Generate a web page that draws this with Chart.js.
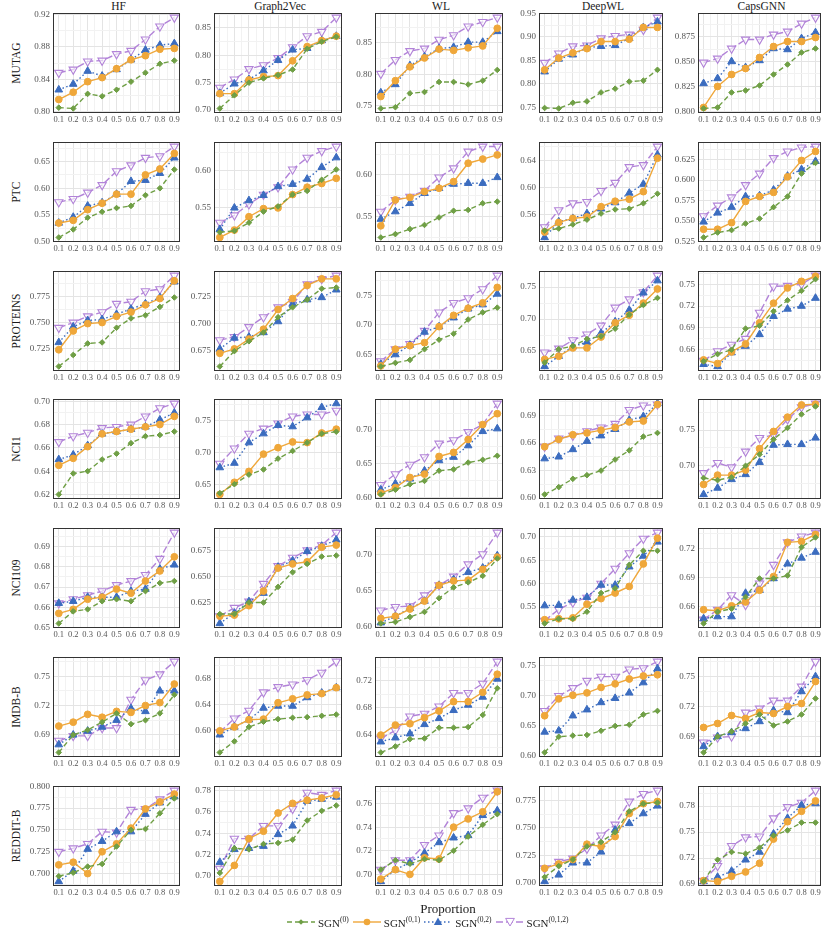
<!DOCTYPE html>
<html>
<head>
<meta charset="utf-8">
<script src="https://cdn.jsdelivr.net/npm/chart.js@4.4.1/dist/chart.umd.min.js"></script>
<style>
  body { margin: 0; background: #fff; font-family: "Liberation Serif", "Times New Roman", serif; }
  #page { position: relative; width: 830px; height: 931px; overflow: hidden; }
  .cell { position: absolute; }
  .colTitle { position: absolute; top: 0px; font-size: 11.5px; color: #1a1a1a; transform: translateX(-50%); white-space: nowrap; }
  .rowTitle { position: absolute; font-size: 11.5px; color: #1a1a1a; transform: translate(-50%, -50%) rotate(-90deg); white-space: nowrap; }
  #xTitle { position: absolute; left: 448px; top: 901px; font-size: 13px; color: #1a1a1a; transform: translateX(-50%); }
  #legend { position: absolute; left: 287px; top: 915px; display: flex; align-items: center; font-size: 11px; color: #1a1a1a; white-space: nowrap; }
  #legend .item { display: flex; align-items: center; margin-right: 4px; }
  #legend svg { margin-right: 3px; }
  #legend sup { font-size: 7.5px; vertical-align: 5px; }
</style>
</head>
<body>
<div id="page"></div>
<script>
// x values and names
const PROPORTIONS = [0.1, 0.2, 0.3, 0.4, 0.5, 0.6, 0.7, 0.8, 0.9];
const METHODS = ["HF", "Graph2Vec", "WL", "DeepWL", "CapsGNN"];
const DATASETS = ["MUTAG", "PTC", "PROTEINS", "NCI1", "NCI109", "IMDB-B", "REDDIT-B"];
const SERIES = ["SGN(0)", "SGN(0,1)", "SGN(0,2)", "SGN(0,1,2)"];

// each panel: [SGN(0), SGN(0,1), SGN(0,2), SGN(0,1,2)]
const MUTAG_HF = [
  [0.805, 0.804, 0.822, 0.819, 0.827, 0.837, 0.848, 0.859, 0.863],
  [0.815, 0.824, 0.837, 0.842, 0.853, 0.864, 0.869, 0.877, 0.878],
  [0.827, 0.834, 0.850, 0.844, 0.852, 0.864, 0.876, 0.882, 0.884],
  [0.848, 0.852, 0.862, 0.863, 0.871, 0.875, 0.889, 0.905, 0.916]];
const MUTAG_GRAPH2VEC = [
  [0.703, 0.727, 0.750, 0.758, 0.764, 0.774, 0.812, 0.825, 0.834],
  [0.730, 0.730, 0.755, 0.761, 0.763, 0.790, 0.816, 0.827, 0.835],
  [0.731, 0.748, 0.756, 0.772, 0.791, 0.810, 0.813, 0.827, 0.835],
  [0.741, 0.756, 0.775, 0.782, 0.795, 0.815, 0.835, 0.843, 0.869]];
const MUTAG_WL = [
  [0.746, 0.748, 0.770, 0.772, 0.788, 0.788, 0.784, 0.790, 0.807],
  [0.765, 0.790, 0.812, 0.826, 0.840, 0.838, 0.842, 0.845, 0.873],
  [0.771, 0.784, 0.814, 0.828, 0.841, 0.843, 0.851, 0.851, 0.868],
  [0.801, 0.823, 0.837, 0.841, 0.855, 0.862, 0.876, 0.883, 0.890]];
const MUTAG_DEEPWL = [
  [0.749, 0.748, 0.760, 0.763, 0.782, 0.790, 0.805, 0.807, 0.830],
  [0.830, 0.855, 0.866, 0.875, 0.890, 0.890, 0.895, 0.920, 0.920],
  [0.826, 0.853, 0.862, 0.877, 0.880, 0.882, 0.897, 0.920, 0.932],
  [0.845, 0.865, 0.880, 0.882, 0.897, 0.902, 0.905, 0.915, 0.941]];
const MUTAG_CAPSGNN = [
  [0.803, 0.804, 0.819, 0.821, 0.826, 0.837, 0.847, 0.859, 0.863],
  [0.804, 0.825, 0.837, 0.843, 0.854, 0.865, 0.870, 0.870, 0.874],
  [0.828, 0.833, 0.850, 0.844, 0.851, 0.863, 0.862, 0.873, 0.879],
  [0.849, 0.853, 0.863, 0.872, 0.872, 0.877, 0.880, 0.888, 0.894]];

const PTC_HF = [
  [0.508, 0.523, 0.545, 0.556, 0.563, 0.567, 0.587, 0.600, 0.635],
  [0.535, 0.540, 0.560, 0.572, 0.589, 0.589, 0.625, 0.636, 0.665],
  [0.535, 0.546, 0.567, 0.573, 0.589, 0.613, 0.615, 0.628, 0.657],
  [0.574, 0.580, 0.592, 0.606, 0.632, 0.643, 0.657, 0.660, 0.678]];
const PTC_GRAPH2VEC = [
  [0.517, 0.519, 0.530, 0.545, 0.552, 0.568, 0.573, 0.588, 0.602],
  [0.510, 0.520, 0.538, 0.549, 0.550, 0.568, 0.578, 0.583, 0.590],
  [0.521, 0.550, 0.560, 0.567, 0.579, 0.582, 0.589, 0.605, 0.618],
  [0.530, 0.540, 0.555, 0.568, 0.578, 0.602, 0.618, 0.627, 0.633]];
const PTC_WL = [
  [0.525, 0.529, 0.535, 0.540, 0.549, 0.557, 0.558, 0.566, 0.568],
  [0.539, 0.570, 0.573, 0.580, 0.584, 0.592, 0.614, 0.619, 0.624],
  [0.547, 0.556, 0.566, 0.578, 0.584, 0.589, 0.590, 0.590, 0.597],
  [0.556, 0.570, 0.574, 0.581, 0.597, 0.608, 0.628, 0.634, 0.634]];
const PTC_DEEPWL = [
  [0.537, 0.540, 0.546, 0.553, 0.562, 0.568, 0.569, 0.577, 0.591],
  [0.535, 0.549, 0.555, 0.557, 0.572, 0.580, 0.583, 0.594, 0.643],
  [0.527, 0.550, 0.555, 0.562, 0.569, 0.578, 0.592, 0.605, 0.648],
  [0.542, 0.567, 0.577, 0.579, 0.595, 0.607, 0.630, 0.633, 0.660]];
const PTC_CAPSGNN = [
  [0.530, 0.536, 0.539, 0.547, 0.553, 0.567, 0.580, 0.608, 0.621],
  [0.540, 0.540, 0.548, 0.574, 0.580, 0.585, 0.604, 0.624, 0.635],
  [0.549, 0.560, 0.567, 0.580, 0.581, 0.588, 0.605, 0.613, 0.623],
  [0.556, 0.569, 0.579, 0.594, 0.608, 0.627, 0.635, 0.640, 0.641]];

const PROTEINS_HF = [
  [0.708, 0.719, 0.730, 0.731, 0.745, 0.754, 0.757, 0.765, 0.774],
  [0.724, 0.742, 0.749, 0.750, 0.756, 0.760, 0.767, 0.773, 0.790],
  [0.731, 0.746, 0.752, 0.753, 0.758, 0.763, 0.768, 0.774, 0.789],
  [0.745, 0.750, 0.756, 0.760, 0.768, 0.770, 0.780, 0.782, 0.795]];
const PROTEINS_GRAPH2VEC = [
  [0.661, 0.675, 0.684, 0.692, 0.706, 0.715, 0.722, 0.732, 0.733],
  [0.673, 0.677, 0.686, 0.695, 0.713, 0.723, 0.735, 0.741, 0.741],
  [0.677, 0.687, 0.688, 0.692, 0.702, 0.718, 0.722, 0.724, 0.731],
  [0.685, 0.688, 0.697, 0.706, 0.715, 0.720, 0.736, 0.741, 0.744]];
const PROTEINS_WL = [
  [0.630, 0.636, 0.641, 0.659, 0.675, 0.685, 0.709, 0.721, 0.729],
  [0.631, 0.659, 0.665, 0.670, 0.697, 0.716, 0.728, 0.737, 0.763],
  [0.634, 0.650, 0.666, 0.688, 0.697, 0.712, 0.727, 0.734, 0.752],
  [0.639, 0.659, 0.668, 0.690, 0.721, 0.737, 0.745, 0.760, 0.783]];
const PROTEINS_DEEPWL = [
  [0.632, 0.653, 0.658, 0.669, 0.673, 0.685, 0.707, 0.722, 0.733],
  [0.637, 0.642, 0.655, 0.655, 0.672, 0.694, 0.706, 0.725, 0.747],
  [0.626, 0.642, 0.657, 0.664, 0.678, 0.696, 0.714, 0.741, 0.760],
  [0.648, 0.654, 0.667, 0.676, 0.690, 0.718, 0.731, 0.742, 0.768]];
const PROTEINS_CAPSGNN = [
  [0.644, 0.654, 0.660, 0.689, 0.693, 0.713, 0.728, 0.741, 0.757],
  [0.646, 0.641, 0.657, 0.668, 0.697, 0.724, 0.745, 0.754, 0.761],
  [0.640, 0.637, 0.656, 0.665, 0.681, 0.706, 0.716, 0.720, 0.731],
  [0.645, 0.658, 0.667, 0.675, 0.711, 0.747, 0.748, 0.750, 0.762]];

const NCI1_HF = [
  [0.620, 0.638, 0.640, 0.650, 0.655, 0.664, 0.670, 0.671, 0.674],
  [0.645, 0.651, 0.661, 0.672, 0.674, 0.676, 0.678, 0.680, 0.687],
  [0.650, 0.654, 0.662, 0.672, 0.674, 0.676, 0.678, 0.684, 0.690],
  [0.665, 0.670, 0.673, 0.677, 0.678, 0.680, 0.687, 0.694, 0.698]];
const NCI1_GRAPH2VEC = [
  [0.636, 0.650, 0.665, 0.673, 0.690, 0.702, 0.715, 0.729, 0.732],
  [0.634, 0.653, 0.670, 0.697, 0.707, 0.716, 0.715, 0.730, 0.736],
  [0.676, 0.683, 0.715, 0.729, 0.742, 0.740, 0.754, 0.770, 0.776],
  [0.682, 0.706, 0.729, 0.737, 0.745, 0.756, 0.759, 0.759, 0.765]];
const NCI1_WL = [
  [0.605, 0.612, 0.620, 0.625, 0.640, 0.642, 0.652, 0.656, 0.662],
  [0.607, 0.615, 0.630, 0.635, 0.661, 0.667, 0.686, 0.708, 0.724],
  [0.612, 0.621, 0.628, 0.640, 0.655, 0.660, 0.677, 0.698, 0.702],
  [0.619, 0.635, 0.649, 0.660, 0.680, 0.685, 0.697, 0.708, 0.739]];
const NCI1_DEEPWL = [
  [0.604, 0.612, 0.621, 0.625, 0.630, 0.642, 0.652, 0.667, 0.671],
  [0.656, 0.664, 0.669, 0.671, 0.674, 0.677, 0.683, 0.684, 0.702],
  [0.643, 0.645, 0.653, 0.662, 0.668, 0.675, 0.685, 0.689, 0.703],
  [0.656, 0.665, 0.668, 0.673, 0.677, 0.681, 0.696, 0.701, 0.702]];
const NCI1_CAPSGNN = [
  [0.683, 0.680, 0.684, 0.700, 0.716, 0.737, 0.753, 0.772, 0.783],
  [0.674, 0.687, 0.687, 0.694, 0.724, 0.748, 0.768, 0.785, 0.786],
  [0.660, 0.669, 0.681, 0.688, 0.705, 0.729, 0.730, 0.730, 0.739],
  [0.690, 0.704, 0.698, 0.720, 0.739, 0.743, 0.765, 0.782, 0.787]];

const NCI109_HF = [
  [0.652, 0.658, 0.659, 0.663, 0.664, 0.663, 0.668, 0.672, 0.673],
  [0.657, 0.659, 0.664, 0.665, 0.669, 0.667, 0.673, 0.678, 0.685],
  [0.662, 0.663, 0.665, 0.665, 0.665, 0.668, 0.669, 0.679, 0.681],
  [0.662, 0.664, 0.666, 0.668, 0.671, 0.673, 0.676, 0.684, 0.697]];
const NCI109_GRAPH2VEC = [
  [0.614, 0.614, 0.625, 0.625, 0.640, 0.654, 0.662, 0.669, 0.670],
  [0.612, 0.613, 0.622, 0.636, 0.658, 0.662, 0.664, 0.678, 0.680],
  [0.605, 0.615, 0.626, 0.634, 0.659, 0.665, 0.674, 0.679, 0.685],
  [0.612, 0.620, 0.626, 0.643, 0.660, 0.668, 0.675, 0.680, 0.692]];
const NCI109_WL = [
  [0.604, 0.606, 0.613, 0.620, 0.639, 0.654, 0.661, 0.670, 0.694],
  [0.611, 0.614, 0.624, 0.635, 0.657, 0.663, 0.664, 0.679, 0.696],
  [0.605, 0.614, 0.625, 0.635, 0.657, 0.665, 0.675, 0.681, 0.698],
  [0.622, 0.627, 0.628, 0.643, 0.657, 0.669, 0.686, 0.700, 0.730]];
const NCI109_DEEPWL = [
  [0.515, 0.525, 0.525, 0.540, 0.580, 0.590, 0.640, 0.670, 0.670],
  [0.523, 0.525, 0.527, 0.556, 0.568, 0.580, 0.594, 0.642, 0.697],
  [0.553, 0.554, 0.565, 0.571, 0.597, 0.597, 0.636, 0.659, 0.689],
  [0.521, 0.545, 0.560, 0.570, 0.600, 0.632, 0.665, 0.696, 0.709]];
const NCI109_CAPSGNN = [
  [0.643, 0.655, 0.658, 0.670, 0.689, 0.689, 0.692, 0.721, 0.731],
  [0.657, 0.656, 0.661, 0.665, 0.677, 0.691, 0.726, 0.727, 0.734],
  [0.648, 0.650, 0.650, 0.674, 0.677, 0.689, 0.704, 0.710, 0.716],
  [0.647, 0.657, 0.672, 0.662, 0.684, 0.703, 0.726, 0.732, 0.736]];

const IMDB_HF = [
  [0.672, 0.690, 0.695, 0.703, 0.712, 0.701, 0.705, 0.712, 0.731],
  [0.699, 0.703, 0.711, 0.708, 0.714, 0.713, 0.720, 0.723, 0.742],
  [0.680, 0.690, 0.694, 0.698, 0.705, 0.717, 0.714, 0.735, 0.735],
  [0.684, 0.689, 0.689, 0.697, 0.697, 0.726, 0.746, 0.752, 0.765]];
const IMDB_GRAPH2VEC = [
  [0.567, 0.584, 0.606, 0.614, 0.618, 0.620, 0.621, 0.623, 0.625],
  [0.600, 0.606, 0.617, 0.618, 0.643, 0.649, 0.655, 0.657, 0.666],
  [0.594, 0.606, 0.617, 0.635, 0.638, 0.638, 0.651, 0.658, 0.666],
  [0.598, 0.619, 0.631, 0.659, 0.667, 0.671, 0.678, 0.689, 0.706]];
const IMDB_WL = [
  [0.613, 0.622, 0.633, 0.634, 0.650, 0.650, 0.651, 0.669, 0.709],
  [0.639, 0.654, 0.656, 0.665, 0.675, 0.689, 0.689, 0.703, 0.730],
  [0.629, 0.635, 0.641, 0.655, 0.664, 0.676, 0.684, 0.696, 0.723],
  [0.634, 0.646, 0.667, 0.671, 0.682, 0.702, 0.702, 0.716, 0.749]];
const IMDB_DEEPWL = [
  [0.606, 0.632, 0.634, 0.635, 0.642, 0.650, 0.652, 0.669, 0.675],
  [0.667, 0.695, 0.701, 0.705, 0.714, 0.720, 0.728, 0.733, 0.735],
  [0.640, 0.642, 0.667, 0.677, 0.689, 0.696, 0.705, 0.722, 0.745],
  [0.675, 0.700, 0.713, 0.725, 0.732, 0.732, 0.744, 0.746, 0.757]];
const IMDB_CAPSGNN = [
  [0.674, 0.690, 0.695, 0.703, 0.712, 0.701, 0.705, 0.712, 0.728],
  [0.699, 0.703, 0.711, 0.708, 0.714, 0.713, 0.720, 0.723, 0.745],
  [0.680, 0.690, 0.694, 0.698, 0.705, 0.716, 0.714, 0.735, 0.750],
  [0.684, 0.689, 0.690, 0.714, 0.718, 0.726, 0.726, 0.740, 0.765]];

const REDDIT_HF = [
  [0.697, 0.701, 0.708, 0.711, 0.731, 0.750, 0.751, 0.769, 0.786],
  [0.710, 0.713, 0.700, 0.725, 0.734, 0.752, 0.774, 0.782, 0.791],
  [0.691, 0.703, 0.728, 0.737, 0.748, 0.748, 0.768, 0.781, 0.788],
  [0.725, 0.729, 0.734, 0.748, 0.747, 0.773, 0.774, 0.785, 0.795]];
const REDDIT_GRAPH2VEC = [
  [0.703, 0.726, 0.725, 0.730, 0.731, 0.734, 0.752, 0.761, 0.766],
  [0.695, 0.710, 0.735, 0.742, 0.759, 0.768, 0.771, 0.773, 0.776],
  [0.713, 0.725, 0.726, 0.728, 0.739, 0.747, 0.770, 0.772, 0.774],
  [0.707, 0.735, 0.735, 0.747, 0.747, 0.763, 0.778, 0.776, 0.780]];
const REDDIT_WL = [
  [0.704, 0.712, 0.709, 0.713, 0.712, 0.720, 0.732, 0.742, 0.751],
  [0.696, 0.704, 0.700, 0.714, 0.713, 0.740, 0.747, 0.753, 0.770],
  [0.694, 0.704, 0.710, 0.718, 0.727, 0.731, 0.733, 0.750, 0.754],
  [0.704, 0.712, 0.712, 0.725, 0.733, 0.752, 0.756, 0.765, 0.771]];
const REDDIT_DEEPWL = [
  [0.705, 0.715, 0.721, 0.733, 0.737, 0.746, 0.765, 0.772, 0.773],
  [0.713, 0.717, 0.721, 0.735, 0.733, 0.742, 0.763, 0.772, 0.774],
  [0.701, 0.707, 0.718, 0.718, 0.728, 0.748, 0.754, 0.763, 0.770],
  [0.713, 0.719, 0.722, 0.731, 0.743, 0.753, 0.774, 0.781, 0.784]];
const REDDIT_CAPSGNN = [
  [0.693, 0.718, 0.727, 0.725, 0.732, 0.746, 0.752, 0.761, 0.761],
  [0.694, 0.693, 0.699, 0.704, 0.714, 0.742, 0.762, 0.774, 0.786],
  [0.693, 0.698, 0.705, 0.718, 0.727, 0.748, 0.766, 0.781, 0.783],
  [0.694, 0.711, 0.734, 0.744, 0.745, 0.766, 0.779, 0.784, 0.798]];

// labelled y tick step for every panel (rows = datasets, cols = methods)
const Y_STEPS = [
  [0.04, 0.05, 0.05, 0.05, 0.025],
  [0.05, 0.05, 0.05, 0.04, 0.025],
  [0.025, 0.025, 0.05, 0.05, 0.03],
  [0.02, 0.05, 0.05, 0.03, 0.05],
  [0.01, 0.025, 0.05, 0.05, 0.03],
  [0.03, 0.04, 0.04, 0.05, 0.03],
  [0.025, 0.02, 0.02, 0.025, 0.03]];

const PANELS = [
  [MUTAG_HF, MUTAG_GRAPH2VEC, MUTAG_WL, MUTAG_DEEPWL, MUTAG_CAPSGNN],
  [PTC_HF, PTC_GRAPH2VEC, PTC_WL, PTC_DEEPWL, PTC_CAPSGNN],
  [PROTEINS_HF, PROTEINS_GRAPH2VEC, PROTEINS_WL, PROTEINS_DEEPWL, PROTEINS_CAPSGNN],
  [NCI1_HF, NCI1_GRAPH2VEC, NCI1_WL, NCI1_DEEPWL, NCI1_CAPSGNN],
  [NCI109_HF, NCI109_GRAPH2VEC, NCI109_WL, NCI109_DEEPWL, NCI109_CAPSGNN],
  [IMDB_HF, IMDB_GRAPH2VEC, IMDB_WL, IMDB_DEEPWL, IMDB_CAPSGNN],
  [REDDIT_HF, REDDIT_GRAPH2VEC, REDDIT_WL, REDDIT_DEEPWL, REDDIT_CAPSGNN]];

// styling
const COLORS = ["#6f9f45", "#efa73a", "#3b6cbf", "#b283d8"];
const DASHES = [[5, 3], [], [1.5, 2.5], [7, 3]];
const POINT_STYLES = ["rectRot", "circle", "triangle", "triangle"];
const POINT_RADII = [2.8, 3.4, 4.4, 4.8];
const FONT = "'Liberation Serif', 'Times New Roman', serif";

// plot box positions (page pixels)
const BOX_LEFT = [53, 214, 375, 539, 698];
const BOX_RIGHT = [184, 346, 507, 667, 825];
const ROW_TOP0 = 13, ROW_GAP = 128.8, BOX_H = 100;
const Y_AXIS_W = 30, X_AXIS_H = 13;

const page = document.getElementById("page");

// dark frame round each panel, like theme_bw
const panelBorder = {
  id: "panelBorder",
  afterDraw(chart) {
    const a = chart.chartArea;
    const ctx = chart.ctx;
    ctx.save();
    ctx.strokeStyle = "#333333";
    ctx.lineWidth = 1;
    ctx.strokeRect(Math.round(a.left) + 0.5, Math.round(a.top) + 0.5,
      Math.round(a.right - a.left) - 1, Math.round(a.bottom - a.top) - 1);
    ctx.restore();
  },
};

function isMultiple(v, step) {
  const q = v / step;
  return Math.abs(q - Math.round(q)) < 1e-6;
}

function tickList(min, max, step) {
  const out = [];
  for (let k = Math.ceil(min / step - 1e-9); k * step <= max + 1e-9; k++) {
    out.push({ value: Math.round(k * step * 1e6) / 1e6 });
  }
  return out;
}

function drawPanel(r, c) {
  const series = PANELS[r][c];
  const step = Y_STEPS[r][c];
  const decimals = isMultiple(step, 0.01) ? 2 : 3;

  // ggplot style 5% expansion of the data range
  const all = series.flat();
  const lo = Math.min(...all), hi = Math.max(...all);
  const pad = (hi - lo) * 0.05;
  const yMin = lo - pad, yMax = hi + pad;

  const boxTop = Math.round(ROW_TOP0 + r * ROW_GAP);
  const left = BOX_LEFT[c] - Y_AXIS_W;
  const width = BOX_RIGHT[c] + 2 - left;
  const height = 13 + BOX_H + X_AXIS_H;

  const cell = document.createElement("div");
  cell.className = "cell";
  cell.style.left = left + "px";
  cell.style.top = (boxTop - 13) + "px";
  cell.style.width = width + "px";
  cell.style.height = height + "px";
  const canvas = document.createElement("canvas");
  canvas.width = width;
  canvas.height = height;
  cell.appendChild(canvas);
  page.appendChild(cell);
  // plain software canvas, so every label is kept in the photo
  canvas.getContext("2d", { willReadFrequently: true });

  const datasets = series.map((vals, k) => ({
    label: SERIES[k],
    data: vals.map((v, i) => ({ x: PROPORTIONS[i], y: v })),
    borderColor: COLORS[k],
    backgroundColor: COLORS[k],
    borderWidth: 1.4,
    borderDash: DASHES[k],
    pointStyle: POINT_STYLES[k],
    pointRadius: POINT_RADII[k],
    pointRotation: k === 3 ? 180 : 0,
    pointBorderColor: COLORS[k],
    pointBackgroundColor: k === 3 ? "rgba(255,255,255,0.6)" : COLORS[k],
    pointBorderWidth: k === 3 ? 1.1 : 1,
    tension: 0,
  }));

  new Chart(canvas, {
    type: "line",
    data: { datasets: datasets },
    options: {
      responsive: false,
      animation: false,
      devicePixelRatio: 1,
      layout: { padding: { top: 13, right: 2, left: 0, bottom: 0 } },
      plugins: { legend: { display: false }, tooltip: { enabled: false } },
      scales: {
        x: {
          type: "linear",
          min: 0.06,
          max: 0.94,
          afterBuildTicks: (axis) => { axis.ticks = tickList(0.06, 0.94, 0.05); },
          afterFit: (axis) => { axis.height = X_AXIS_H; },
          ticks: {
            autoSkip: false,
            maxRotation: 0,
            padding: 2,
            color: "#555555",
            font: { family: FONT, size: 8.5 },
            callback: (v) => (isMultiple(v, 0.1) ? v.toFixed(1) : ""),
          },
          grid: {
            drawTicks: false,
            color: (ctx) => (ctx.tick && isMultiple(ctx.tick.value, 0.1) ? "#e4e4e4" : "#f2f2f2"),
          },
          border: { display: false },
        },
        y: {
          min: yMin,
          max: yMax,
          afterBuildTicks: (axis) => { axis.ticks = tickList(yMin, yMax, step / 2); },
          afterFit: (axis) => { axis.width = Y_AXIS_W; },
          ticks: {
            autoSkip: false,
            padding: 3,
            color: "#555555",
            font: { family: FONT, size: 9 },
            callback: (v) => (isMultiple(v, step) ? v.toFixed(decimals) : ""),
          },
          grid: {
            drawTicks: false,
            color: (ctx) => (ctx.tick && isMultiple(ctx.tick.value, step) ? "#e4e4e4" : "#f2f2f2"),
          },
          border: { display: false },
        },
      },
    },
    plugins: [panelBorder],
  });
}

// column titles
METHODS.forEach((m, c) => {
  const d = document.createElement("div");
  d.className = "colTitle";
  d.textContent = m;
  d.style.left = ((BOX_LEFT[c] + BOX_RIGHT[c]) / 2) + "px";
  page.appendChild(d);
});

// row titles
DATASETS.forEach((name, r) => {
  const d = document.createElement("div");
  d.className = "rowTitle";
  d.textContent = name;
  d.style.left = "16px";
  d.style.top = Math.round(ROW_TOP0 + r * ROW_GAP + BOX_H / 2) + "px";
  page.appendChild(d);
});

for (let r = 0; r < DATASETS.length; r++) {
  for (let c = 0; c < METHODS.length; c++) {
    drawPanel(r, c);
  }
}

// shared x title and legend
const xTitle = document.createElement("div");
xTitle.id = "xTitle";
xTitle.textContent = "Proportion";
page.appendChild(xTitle);

const markerSvg = [
  (col) => `<path d="M14 3.2 L16.8 6 L14 8.8 L11.2 6 Z" fill="${col}"/>`,
  (col) => `<circle cx="14" cy="6" r="3.3" fill="${col}"/>`,
  (col) => `<path d="M14 1.6 L18.2 9 L9.8 9 Z" fill="${col}"/>`,
  (col) => `<path d="M9.6 2.4 L18.4 2.4 L14 10 Z" fill="#fff" stroke="${col}" stroke-width="1"/>`,
];
const legend = document.createElement("div");
legend.id = "legend";
const supText = ["(0)", "(0,1)", "(0,2)", "(0,1,2)"];
legend.innerHTML = supText.map((s, k) => `
  <span class="item">
    <svg width="28" height="12" viewBox="0 0 28 12">
      <line x1="0" y1="6" x2="28" y2="6" stroke="${COLORS[k]}" stroke-width="1.4"
        stroke-dasharray="${DASHES[k].join(" ") || "none"}"/>
      ${markerSvg[k](COLORS[k])}
    </svg>
    <span>SGN<sup>${s}</sup></span>
  </span>`).join("");
page.appendChild(legend);
</script>
</body>
</html>
